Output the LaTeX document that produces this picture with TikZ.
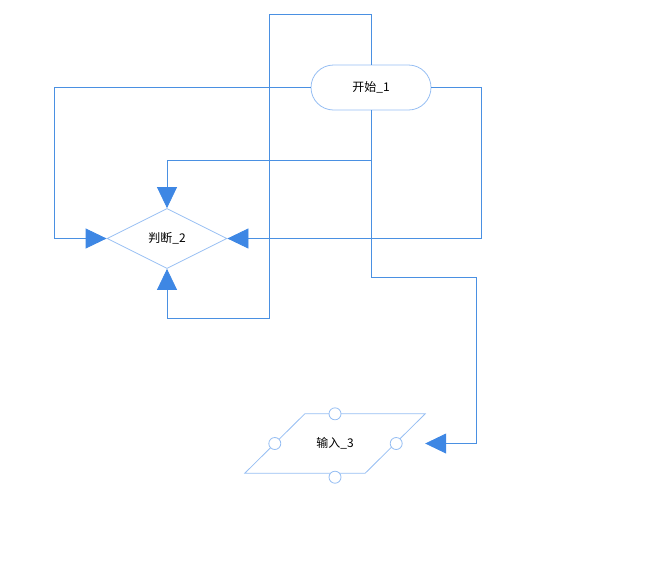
\documentclass[tikz,border=0pt]{standalone}
\usepackage{fontspec}
\newfontfamily\cjk{Noto Sans CJK SC}
\usetikzlibrary{shapes.geometric,arrows.meta,calc}
\definecolor{linkblue}{RGB}{74,144,226}
\definecolor{shapeblue}{RGB}{150,190,243}
\definecolor{tipblue}{RGB}{62,135,228}

\begin{document}
\begin{tikzpicture}[
  x=1pt, y=-1pt,
  font=\cjk\fontsize{12}{14}\selectfont,
  startbox/.style={rectangle, rounded corners=22.5pt, draw=shapeblue, line width=0.8pt, minimum width=120pt, minimum height=45pt},
  decbox/.style={diamond, aspect=2, draw=shapeblue, line width=0.8pt, minimum width=120pt, minimum height=60pt, inner sep=0pt},
  inbox/.style={rectangle, minimum width=180pt, minimum height=59pt, inner sep=0pt},
  outline/.style={draw=shapeblue, line width=0.8pt},
  port/.style={circle, draw=shapeblue, fill=white, line width=0.8pt, minimum size=12pt, inner sep=0pt},
  edge/.style={draw=linkblue, line width=0.8pt, -{Triangle[length=21pt, width=20pt, color=tipblue]}}
]
\useasboundingbox (0,0) rectangle (652,579);
\node[startbox] (start) at (371,87.5) {开始\_1};
\node[decbox] (dec) at (167,238.5) {判断\_2};
\node[inbox] (inp) at (335,443.5) {输入\_3};
% parallelogram outline of the input node
\draw[outline] (inp.south west) -- ($(inp.north west)+(60,0)$) -- (inp.north east)
  -- ($(inp.south east)+(-60,0)$) -- cycle;
\node[port] (pn) at (inp.north) {};
\node[port] (ps) at ($(inp.south)+(0,4)$) {};
\node[port] (pw) at ($(inp.west)+(30,0)$) {};
\node[port] (pe) at ($(inp.east)+(-29,0)$) {};
\draw[edge] (start.north) -- ++(0,-50) -| ++(-102,304) -| (dec.south);
\draw[edge] (start.west) -| ++(-256,151) -- (dec.west);
\draw[edge] (start.south) -- ++(0,50) -| (dec.north);
\draw[edge] (start.east) -| ++(50,151) -- (dec.east);
\draw[edge] (start.south) |- ++(105,167) |- (inp.east);
\end{tikzpicture}
\end{document}
